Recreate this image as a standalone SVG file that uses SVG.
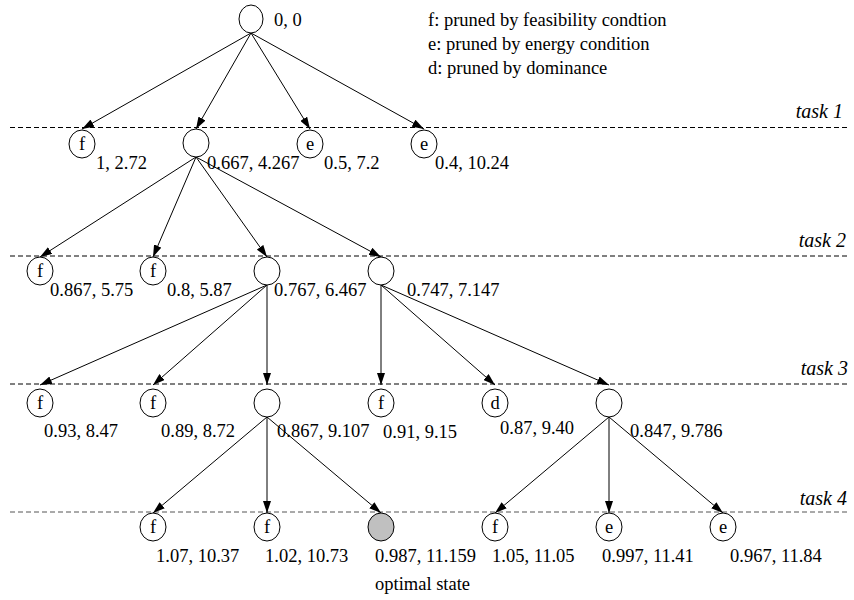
<svg xmlns="http://www.w3.org/2000/svg" width="854" height="600" viewBox="0 0 854 600">
<defs>
<marker id="ah" viewBox="0 0 12 8" refX="12" refY="4" markerWidth="12" markerHeight="8" markerUnits="userSpaceOnUse" orient="auto">
<path d="M0,0 L12,4 L0,8 Z" fill="#000"/>
</marker>
</defs>
<style>
.task{font-style:italic;text-anchor:end;font-size:20px}
.in{text-anchor:middle}
.n{fill:#fff;stroke:#000;stroke-width:1}
.opt{fill:#c0c0c0;stroke:#000;stroke-width:1}
.dash{stroke:#000;stroke-width:1;stroke-dasharray:5,3}
.e{stroke:#000;stroke-width:1;fill:none;marker-end:url(#ah)}
</style>
<rect width="854" height="600" fill="#fff"/>
<g font-family="'Liberation Serif', Tinos, 'Times New Roman', 'DejaVu Serif', serif" font-size="18.5" fill="#000">
<g id="levels">
<line class="dash" x1="10" y1="127.5" x2="850" y2="127.5"/>
<line class="dash" x1="10" y1="256" x2="850" y2="256"/>
<line class="dash" x1="10" y1="384" x2="850" y2="384"/>
<line class="dash" x1="10" y1="512" x2="850" y2="512" style="stroke:#555"/>
<text class="task" x="843" y="118">task 1</text>
<text class="task" x="846" y="247">task 2</text>
<text class="task" x="848" y="375">task 3</text>
<text class="task" x="847" y="505">task 4</text>
</g>
<g id="legend">
<text x="428" y="26">f: pruned by feasibility condtion</text>
<text x="428" y="50">e: pruned by energy condition</text>
<text x="428" y="74">d: pruned by dominance</text>
</g>
<g id="connectors">
<line class="e" x1="251" y1="33" x2="82" y2="129"/>
<line class="e" x1="251" y1="33" x2="196" y2="129"/>
<line class="e" x1="251" y1="33" x2="310" y2="129"/>
<line class="e" x1="251" y1="33" x2="424" y2="129"/>
<line class="e" x1="196" y1="157" x2="40" y2="257"/>
<line class="e" x1="196" y1="157" x2="153" y2="257"/>
<line class="e" x1="196" y1="157" x2="267" y2="257"/>
<line class="e" x1="196" y1="157" x2="381" y2="257"/>
<line class="e" x1="267" y1="285" x2="40" y2="385"/>
<line class="e" x1="267" y1="285" x2="153" y2="385"/>
<line class="e" x1="267" y1="285" x2="267" y2="385"/>
<line class="e" x1="381" y1="285" x2="381" y2="385"/>
<line class="e" x1="381" y1="285" x2="495" y2="385"/>
<line class="e" x1="381" y1="285" x2="609" y2="385"/>
<line class="e" x1="267" y1="417" x2="153" y2="513"/>
<line class="e" x1="267" y1="417" x2="267" y2="513"/>
<line class="e" x1="267" y1="417" x2="381" y2="513"/>
<line class="e" x1="609" y1="417" x2="495" y2="513"/>
<line class="e" x1="609" y1="417" x2="609" y2="513"/>
<line class="e" x1="609" y1="417" x2="723" y2="513"/>
</g>
<g id="root"><ellipse class="n" cx="251" cy="19" rx="12" ry="14"/><text x="274" y="26">0, 0</text></g>
<g id="t1a"><ellipse class="n" cx="82" cy="144" rx="13" ry="14"/><text class="in" x="82" y="150">f</text><text x="96" y="169">1, 2.72</text></g>
<g id="t1b"><ellipse class="n" cx="196" cy="143" rx="13" ry="14"/><text x="207" y="169">0.667, 4.267</text></g>
<g id="t1c"><ellipse class="n" cx="310" cy="144" rx="13" ry="14"/><text class="in" x="310" y="150">e</text><text x="324" y="169">0.5, 7.2</text></g>
<g id="t1d"><ellipse class="n" cx="424" cy="144" rx="13" ry="14"/><text class="in" x="424" y="150">e</text><text x="435" y="169">0.4, 10.24</text></g>
<g id="t2a"><ellipse class="n" cx="40" cy="271" rx="13" ry="14"/><text class="in" x="40" y="277">f</text><text x="50" y="296">0.867, 5.75</text></g>
<g id="t2b"><ellipse class="n" cx="153" cy="271" rx="13" ry="14"/><text class="in" x="153" y="277">f</text><text x="167" y="296">0.8, 5.87</text></g>
<g id="t2c"><ellipse class="n" cx="267" cy="271" rx="13" ry="14"/><text x="274" y="296">0.767, 6.467</text></g>
<g id="t2d"><ellipse class="n" cx="381" cy="271" rx="13" ry="14"/><text x="407" y="296">0.747, 7.147</text></g>
<g id="t3a"><ellipse class="n" cx="40" cy="403" rx="13" ry="14"/><text class="in" x="40" y="409">f</text><text x="44" y="437">0.93, 8.47</text></g>
<g id="t3b"><ellipse class="n" cx="153" cy="403" rx="13" ry="14"/><text class="in" x="153" y="409">f</text><text x="161" y="437">0.89, 8.72</text></g>
<g id="t3c"><ellipse class="n" cx="267" cy="403" rx="13" ry="14"/><text x="277" y="437">0.867, 9.107</text></g>
<g id="t3d"><ellipse class="n" cx="381" cy="403" rx="13" ry="14"/><text class="in" x="381" y="409">f</text><text x="383" y="438">0.91, 9.15</text></g>
<g id="t3e"><ellipse class="n" cx="495" cy="403" rx="13" ry="14"/><text class="in" x="495" y="409">d</text><text x="500" y="434">0.87, 9.40</text></g>
<g id="t3f"><ellipse class="n" cx="609" cy="403" rx="13" ry="14"/><text x="630" y="437">0.847, 9.786</text></g>
<g id="t4a"><ellipse class="n" cx="153" cy="527" rx="13" ry="14"/><text class="in" x="153" y="533">f</text><text x="156" y="562">1.07, 10.37</text></g>
<g id="t4b"><ellipse class="n" cx="267" cy="527" rx="13" ry="14"/><text class="in" x="267" y="533">f</text><text x="265" y="562">1.02, 10.73</text></g>
<g id="t4c"><ellipse class="opt" cx="381" cy="527" rx="13" ry="14"/><text x="375" y="562">0.987, 11.159</text><text x="375" y="590">optimal state</text></g>
<g id="t4d"><ellipse class="n" cx="495" cy="527" rx="13" ry="14"/><text class="in" x="495" y="533">f</text><text x="492" y="562">1.05, 11.05</text></g>
<g id="t4e"><ellipse class="n" cx="609" cy="527" rx="13" ry="14"/><text class="in" x="609" y="533">e</text><text x="602" y="562">0.997, 11.41</text></g>
<g id="t4f"><ellipse class="n" cx="723" cy="527" rx="13" ry="14"/><text class="in" x="723" y="533">e</text><text x="730" y="562">0.967, 11.84</text></g>
</g>
</svg>
